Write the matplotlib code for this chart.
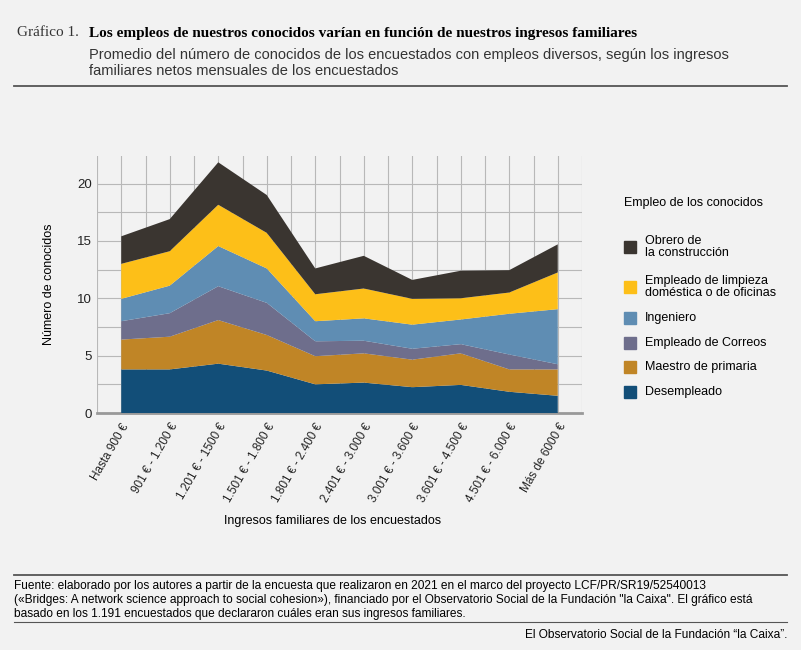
import matplotlib.pyplot as plt
import numpy as np
from matplotlib.patches import Rectangle

plt.rcParams['font.family'] = ['Liberation Sans', 'DejaVu Sans']

categories = ["Hasta 900 €", "901 € - 1.200 €", "1.201 € - 1500 €", "1.501 € - 1.800 €",
              "1.801 € - 2.400 €", "2.401 € - 3.000 €", "3.001 € - 3.600 €",
              "3.601 € - 4.500 €", "4.501 € - 6.000 €", "Más de 6000 €"]
series_names = ["Desempleado", "Maestro de primaria", "Empleado de Correos", "Ingeniero",
                "Empleado de limpieza\ndoméstica o de oficinas", "Obrero de\nla construcción"]
desempleado = [3.8, 3.8, 4.3, 3.7, 2.5, 2.65, 2.25, 2.45, 1.85, 1.5]
maestro = [2.6, 2.85, 3.8, 3.1, 2.45, 2.55, 2.4, 2.75, 1.95, 2.3]
correos = [1.6, 2.05, 2.95, 2.8, 1.3, 1.1, 0.95, 0.8, 1.3, 0.45]
ingeniero = [1.95, 2.4, 3.5, 3.0, 1.75, 1.95, 2.1, 2.15, 3.55, 4.8]
limpieza = [3.05, 3.0, 3.6, 3.1, 2.35, 2.6, 2.25, 1.85, 1.85, 3.2]
obrero = [2.4, 2.8, 3.7, 3.3, 2.25, 2.85, 1.65, 2.4, 1.95, 2.45]
colors = ["#124e78", "#c08526", "#6e6e8c", "#5f8db3", "#fdbf18", "#3a3530"]

bg = "#f2f2f2"
fig = plt.figure(figsize=(8.01, 6.5), dpi=100, facecolor=bg)
ax = fig.add_axes([97/801, 1-413/650, (582-97)/801, (413-156)/650])
ax.set_facecolor(bg)
x = np.arange(len(categories))
data = [desempleado, maestro, correos, ingeniero, limpieza, obrero]
ax.stackplot(x, *data, colors=colors, zorder=3)
ax.set_xlim(-0.44, 9.47)
ax.set_ylim(0, 22.4)
ax.set_yticks([0, 5, 10, 15, 20])
ax.set_yticks(np.arange(0, 22.5, 2.5), minor=True)
ax.set_xticks(x)
ax.set_xticks(np.arange(-0.5, 9.6, 0.5), minor=True)
ax.grid(True, which="both", color="#b8b8b8", lw=0.8, zorder=0)
ax.tick_params(which="both", length=0, labelsize=9.5, colors="#222")
ax.tick_params(axis="x", pad=6)
ax.set_xticklabels(categories, rotation=60, ha="right", rotation_mode="anchor", fontsize=8.5)
for s in ["top", "right", "left"]:
    ax.spines[s].set_visible(False)
ax.spines["bottom"].set_color("#999")
ax.spines["bottom"].set_linewidth(2)
ax.set_ylabel("Número de conocidos", fontsize=9, labelpad=16)
fig.text(333/801, 1-521/650, "Ingresos familiares de los encuestados", fontsize=9, ha="center", va="center")

# legend
fig.text(624/801, 1-203/650, "Empleo de los conocidos", fontsize=9, va="center")
ly = [392, 367, 343, 318, 287, 247]
for name, c, yy in zip(series_names, colors, ly):
    fig.patches.append(Rectangle((624/801, 1-(yy+6)/650), 12/801, 12/650, color=c, transform=fig.transFigure))
    fig.text(645/801, 1-yy/650, name, fontsize=9, va="center", linespacing=1.1)

# header
fig.text(17/801, 1-33/650, "Gráfico 1.", fontsize=11, family="Liberation Serif", va="center", color="#333")
fig.text(89/801, 1-33/650, "Los empleos de nuestros conocidos varían en función de nuestros ingresos familiares",
         fontsize=11, family="Liberation Serif", weight="bold", va="center")
fig.text(89/801, 1-63/650, "Promedio del número de conocidos de los encuestados con empleos diversos, según los ingresos\nfamiliares netos mensuales de los encuestados",
         fontsize=10.5, va="center", color="#333", linespacing=1.2)
for yy in [86, 575]:
    fig.add_artist(plt.Line2D([14/801, 787/801], [1-yy/650]*2, color="#555", lw=1.3))
fig.text(14/801, 1-600/650, "Fuente: elaborado por los autores a partir de la encuesta que realizaron en 2021 en el marco del proyecto LCF/PR/SR19/52540013\n(«Bridges: A network science approach to social cohesion»), financiado por el Observatorio Social de la Fundación \"la Caixa\". El gráfico está\nbasado en los 1.191 encuestados que declararon cuáles eran sus ingresos familiares.",
         fontsize=8.6, va="center", linespacing=1.25)
fig.add_artist(plt.Line2D([14/801, 787/801], [1-622/650]*2, color="#555", lw=0.8))
fig.text(787/801, 1-635/650, "El Observatorio Social de la Fundación “la Caixa”.", fontsize=8.6, ha="right", va="center")
fig.savefig("out.png", dpi=100, facecolor=bg)
